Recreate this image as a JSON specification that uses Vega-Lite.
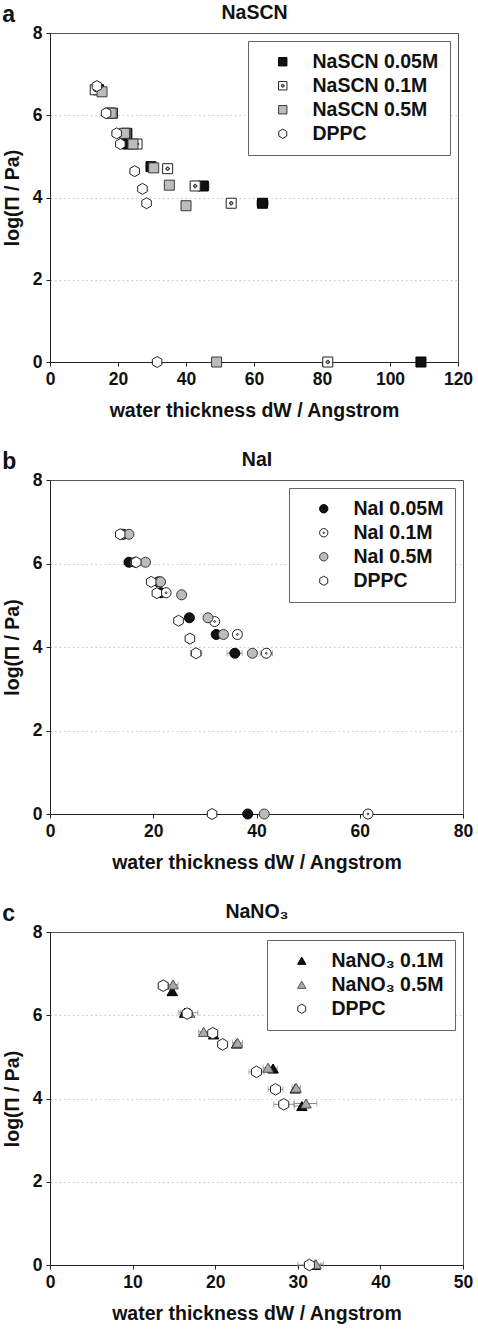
{
  "$schema": "https://vega.github.io/schema/vega-lite/v6.json",
  "padding": {"left": 1, "top": 1, "right": 0, "bottom": 5},
  "spacing": 27,
  "resolve": {"scale": {"x": "independent", "y": "independent", "shape": "independent", "fill": "independent", "stroke": "independent"}, "legend": {"shape": "independent", "fill": "independent", "stroke": "independent"}},
  "datasets": {
    "a": [
      {"s": "NaSCN 0.05M", "x": 14.3, "y": 6.62},
      {"s": "NaSCN 0.05M", "x": 17.7, "y": 6.05},
      {"s": "NaSCN 0.05M", "x": 22.6, "y": 5.56},
      {"s": "NaSCN 0.05M", "x": 22.8, "y": 5.30},
      {"s": "NaSCN 0.05M", "x": 29.7, "y": 4.75},
      {"s": "NaSCN 0.05M", "x": 45.1, "y": 4.28, "xlo": 43.5, "xhi": 46.8},
      {"s": "NaSCN 0.05M", "x": 62.5, "y": 3.86, "xlo": 60.8, "xhi": 64.3},
      {"s": "NaSCN 0.05M", "x": 109.1, "y": 0},
      {"s": "NaSCN 0.1M", "x": 13.3, "y": 6.62},
      {"s": "NaSCN 0.1M", "x": 18.4, "y": 6.05},
      {"s": "NaSCN 0.1M", "x": 22.3, "y": 5.56},
      {"s": "NaSCN 0.1M", "x": 25.6, "y": 5.30, "xlo": 24.6, "xhi": 26.6},
      {"s": "NaSCN 0.1M", "x": 34.6, "y": 4.70},
      {"s": "NaSCN 0.1M", "x": 42.7, "y": 4.28, "xlo": 41.2, "xhi": 44.2},
      {"s": "NaSCN 0.1M", "x": 53.3, "y": 3.86},
      {"s": "NaSCN 0.1M", "x": 81.7, "y": 0},
      {"s": "NaSCN 0.5M", "x": 15.3, "y": 6.57},
      {"s": "NaSCN 0.5M", "x": 18.0, "y": 6.05},
      {"s": "NaSCN 0.5M", "x": 21.9, "y": 5.56},
      {"s": "NaSCN 0.5M", "x": 24.4, "y": 5.30},
      {"s": "NaSCN 0.5M", "x": 30.5, "y": 4.72},
      {"s": "NaSCN 0.5M", "x": 35.1, "y": 4.30},
      {"s": "NaSCN 0.5M", "x": 40.0, "y": 3.80},
      {"s": "NaSCN 0.5M", "x": 49.0, "y": 0},
      {"s": "DPPC", "x": 13.8, "y": 6.71},
      {"s": "DPPC", "x": 16.5, "y": 6.05},
      {"s": "DPPC", "x": 19.6, "y": 5.56},
      {"s": "DPPC", "x": 20.7, "y": 5.30},
      {"s": "DPPC", "x": 24.9, "y": 4.64},
      {"s": "DPPC", "x": 27.2, "y": 4.21},
      {"s": "DPPC", "x": 28.4, "y": 3.86},
      {"s": "DPPC", "x": 31.5, "y": 0}
    ],
    "b": [
      {"s": "NaI 0.05M", "x": 14.2, "y": 6.70},
      {"s": "NaI 0.05M", "x": 15.3, "y": 6.03},
      {"s": "NaI 0.05M", "x": 21.0, "y": 5.56},
      {"s": "NaI 0.05M", "x": 21.5, "y": 5.30},
      {"s": "NaI 0.05M", "x": 27.0, "y": 4.70},
      {"s": "NaI 0.05M", "x": 32.2, "y": 4.30, "xlo": 31.6, "xhi": 32.8},
      {"s": "NaI 0.05M", "x": 35.8, "y": 3.85, "xlo": 34.3, "xhi": 37.2},
      {"s": "NaI 0.05M", "x": 38.3, "y": 0},
      {"s": "NaI 0.1M", "x": 13.9, "y": 6.70},
      {"s": "NaI 0.1M", "x": 16.5, "y": 6.03},
      {"s": "NaI 0.1M", "x": 21.3, "y": 5.56},
      {"s": "NaI 0.1M", "x": 22.5, "y": 5.30},
      {"s": "NaI 0.1M", "x": 31.9, "y": 4.61},
      {"s": "NaI 0.1M", "x": 36.3, "y": 4.30},
      {"s": "NaI 0.1M", "x": 41.9, "y": 3.85, "xlo": 40.7, "xhi": 43.1},
      {"s": "NaI 0.1M", "x": 61.6, "y": 0},
      {"s": "NaI 0.5M", "x": 15.3, "y": 6.70},
      {"s": "NaI 0.5M", "x": 18.5, "y": 6.03},
      {"s": "NaI 0.5M", "x": 21.4, "y": 5.56},
      {"s": "NaI 0.5M", "x": 25.5, "y": 5.25},
      {"s": "NaI 0.5M", "x": 30.6, "y": 4.70},
      {"s": "NaI 0.5M", "x": 33.6, "y": 4.30},
      {"s": "NaI 0.5M", "x": 39.2, "y": 3.85},
      {"s": "NaI 0.5M", "x": 41.5, "y": 0},
      {"s": "DPPC", "x": 13.6, "y": 6.70},
      {"s": "DPPC", "x": 16.7, "y": 6.03},
      {"s": "DPPC", "x": 19.6, "y": 5.56},
      {"s": "DPPC", "x": 20.7, "y": 5.29},
      {"s": "DPPC", "x": 24.9, "y": 4.63},
      {"s": "DPPC", "x": 27.1, "y": 4.20},
      {"s": "DPPC", "x": 28.3, "y": 3.85, "xlo": 27.2, "xhi": 29.4},
      {"s": "DPPC", "x": 31.4, "y": 0}
    ],
    "c": [
      {"s": "NaNO₃ 0.1M", "x": 14.8, "y": 6.58},
      {"s": "NaNO₃ 0.1M", "x": 16.3, "y": 6.06, "xlo": 15.6, "xhi": 17.0},
      {"s": "NaNO₃ 0.1M", "x": 19.8, "y": 5.54},
      {"s": "NaNO₃ 0.1M", "x": 22.6, "y": 5.32},
      {"s": "NaNO₃ 0.1M", "x": 27.0, "y": 4.72, "xlo": 26.6, "xhi": 27.5},
      {"s": "NaNO₃ 0.1M", "x": 29.7, "y": 4.24},
      {"s": "NaNO₃ 0.1M", "x": 30.5, "y": 3.82, "xlo": 29.6, "xhi": 31.3},
      {"s": "NaNO₃ 0.1M", "x": 32.1, "y": 0},
      {"s": "NaNO₃ 0.5M", "x": 14.9, "y": 6.74, "xlo": 14.3, "xhi": 15.5},
      {"s": "NaNO₃ 0.5M", "x": 16.9, "y": 6.06, "xlo": 15.8, "xhi": 17.9},
      {"s": "NaNO₃ 0.5M", "x": 18.6, "y": 5.60, "xlo": 18.0, "xhi": 19.2},
      {"s": "NaNO₃ 0.5M", "x": 22.7, "y": 5.34, "xlo": 22.1, "xhi": 23.3},
      {"s": "NaNO₃ 0.5M", "x": 26.4, "y": 4.74, "xlo": 25.8, "xhi": 27.0},
      {"s": "NaNO₃ 0.5M", "x": 29.8, "y": 4.26, "xlo": 29.3, "xhi": 30.3},
      {"s": "NaNO₃ 0.5M", "x": 31.0, "y": 3.88, "xlo": 29.6, "xhi": 32.3},
      {"s": "NaNO₃ 0.5M", "x": 32.2, "y": 0.02, "xlo": 31.4, "xhi": 33.1},
      {"s": "DPPC", "x": 13.7, "y": 6.71},
      {"s": "DPPC", "x": 16.6, "y": 6.04},
      {"s": "DPPC", "x": 19.7, "y": 5.57},
      {"s": "DPPC", "x": 20.9, "y": 5.30},
      {"s": "DPPC", "x": 25.0, "y": 4.64, "xlo": 24.1, "xhi": 25.9},
      {"s": "DPPC", "x": 27.3, "y": 4.22, "xlo": 26.4, "xhi": 28.2},
      {"s": "DPPC", "x": 28.3, "y": 3.86, "xlo": 27.1, "xhi": 29.5},
      {"s": "DPPC", "x": 31.4, "y": 0, "xlo": 30.0, "xhi": 32.8}
    ]
  },
  "vconcat": [
    {
      "width": 408, "height": 329,
      "data": {"name": "a"},
      "title": {"text": "a", "anchor": "start", "frame": "bounds", "fontSize": 23, "fontWeight": "bold", "dy": 25, "offset": 0},
      "resolve": {"axis": {"x": "independent"}},
      "layer": [
        {"transform": [{"filter": "isValid(datum.xlo)"}], "mark": {"type": "rule", "color": "#8a8a8a", "strokeWidth": 1},
         "encoding": {
           "x": {"field": "xlo", "type": "quantitative", "scale": {"domain": [0, 120], "nice": false}, "axis": {"orient": "top", "title": "NaSCN", "labels": false, "ticks": false, "domain": false, "grid": false, "titlePadding": 11}},
           "x2": {"field": "xhi"},
           "y": {"field": "y", "type": "quantitative", "scale": {"domain": [0, 8], "nice": false}, "axis": {"title": "log(Π / Pa)", "values": [0, 2, 4, 6, 8], "titlePadding": 10, "gridOpacity": {"condition": {"test": "datum.value === 0 || datum.value === 8", "value": 0}, "value": 1}}}}},
        {"transform": [{"filter": "isValid(datum.xlo)"}], "mark": {"type": "tick", "orient": "vertical", "color": "#8a8a8a", "size": 6, "thickness": 1},
         "encoding": {"x": {"field": "xlo", "type": "quantitative", "axis": null}, "y": {"field": "y", "type": "quantitative", "axis": {"title": "log(Π / Pa)", "values": [0, 2, 4, 6, 8], "titlePadding": 10, "gridOpacity": {"condition": {"test": "datum.value === 0 || datum.value === 8", "value": 0}, "value": 1}}}}},
        {"transform": [{"filter": "isValid(datum.xlo)"}], "mark": {"type": "tick", "orient": "vertical", "color": "#8a8a8a", "size": 6, "thickness": 1},
         "encoding": {"x": {"field": "xhi", "type": "quantitative", "axis": null}, "y": {"field": "y", "type": "quantitative", "axis": {"title": "log(Π / Pa)", "values": [0, 2, 4, 6, 8], "titlePadding": 10, "gridOpacity": {"condition": {"test": "datum.value === 0 || datum.value === 8", "value": 0}, "value": 1}}}}},
        {"mark": {"type": "point", "filled": true, "size": 100, "strokeWidth": 1, "opacity": 1},
         "encoding": {
           "x": {"field": "x", "type": "quantitative", "scale": {"domain": [0, 120], "nice": false}, "axis": {"orient": "bottom", "title": "water thickness dW / Angstrom", "titlePadding": 14, "values": [0, 20, 40, 60, 80, 100, 120], "gridOpacity": {"condition": {"test": "datum.value === 0 || datum.value === 120", "value": 0}, "value": 1}}},
           "y": {"field": "y", "type": "quantitative", "scale": {"domain": [0, 8], "nice": false}, "axis": {"title": "log(Π / Pa)", "values": [0, 2, 4, 6, 8], "titlePadding": 10, "gridOpacity": {"condition": {"test": "datum.value === 0 || datum.value === 8", "value": 0}, "value": 1}}},
           "shape": {"field": "s", "type": "nominal", "scale": {"domain": ["NaSCN 0.05M", "NaSCN 0.1M", "NaSCN 0.5M", "DPPC"], "range": ["square", "M-1,-1H1V1H-1Z M-0.35,-0.12H-0.12V-0.35H0.12V-0.12H0.35V0.12H0.12V0.35H-0.12V0.12H-0.35Z", "square", "M0,-1.1L0.95,-0.55L0.95,0.55L0,1.1L-0.95,0.55L-0.95,-0.55Z"]}, "legend": {"title": null}},
           "fill": {"field": "s", "type": "nominal", "scale": {"domain": ["NaSCN 0.05M", "NaSCN 0.1M", "NaSCN 0.5M", "DPPC"], "range": ["#111111", "#ffffff", "#bcbcbc", "#ffffff"]}, "legend": {"title": null}},
           "stroke": {"field": "s", "type": "nominal", "scale": {"domain": ["NaSCN 0.05M", "NaSCN 0.1M", "NaSCN 0.5M", "DPPC"], "range": ["#000000", "#222222", "#3a3a3a", "#222222"]}, "legend": {"title": null}}}}
      ]
    },
    {
      "width": 413, "height": 334,
      "data": {"name": "b"},
      "title": {"text": "b", "anchor": "start", "frame": "bounds", "fontSize": 23, "fontWeight": "bold", "dy": 25, "offset": 0},
      "resolve": {"axis": {"x": "independent"}},
      "layer": [
        {"transform": [{"filter": "isValid(datum.xlo)"}], "mark": {"type": "rule", "color": "#8a8a8a", "strokeWidth": 1},
         "encoding": {
           "x": {"field": "xlo", "type": "quantitative", "scale": {"domain": [0, 80], "nice": false}, "axis": {"orient": "top", "title": "NaI", "labels": false, "ticks": false, "domain": false, "grid": false, "titlePadding": 11}},
           "x2": {"field": "xhi"},
           "y": {"field": "y", "type": "quantitative", "scale": {"domain": [0, 8], "nice": false}, "axis": {"title": "log(Π / Pa)", "values": [0, 2, 4, 6, 8], "titlePadding": 10, "gridOpacity": {"condition": {"test": "datum.value === 0 || datum.value === 8", "value": 0}, "value": 1}}}}},
        {"transform": [{"filter": "isValid(datum.xlo)"}], "mark": {"type": "tick", "orient": "vertical", "color": "#8a8a8a", "size": 6, "thickness": 1},
         "encoding": {"x": {"field": "xlo", "type": "quantitative", "axis": null}, "y": {"field": "y", "type": "quantitative", "axis": {"title": "log(Π / Pa)", "values": [0, 2, 4, 6, 8], "titlePadding": 10, "gridOpacity": {"condition": {"test": "datum.value === 0 || datum.value === 8", "value": 0}, "value": 1}}}}},
        {"transform": [{"filter": "isValid(datum.xlo)"}], "mark": {"type": "tick", "orient": "vertical", "color": "#8a8a8a", "size": 6, "thickness": 1},
         "encoding": {"x": {"field": "xhi", "type": "quantitative", "axis": null}, "y": {"field": "y", "type": "quantitative", "axis": {"title": "log(Π / Pa)", "values": [0, 2, 4, 6, 8], "titlePadding": 10, "gridOpacity": {"condition": {"test": "datum.value === 0 || datum.value === 8", "value": 0}, "value": 1}}}}},
        {"mark": {"type": "point", "filled": true, "size": 100, "strokeWidth": 1, "opacity": 1},
         "encoding": {
           "x": {"field": "x", "type": "quantitative", "scale": {"domain": [0, 80], "nice": false}, "axis": {"orient": "bottom", "title": "water thickness dW / Angstrom", "titlePadding": 14, "values": [0, 20, 40, 60, 80], "gridOpacity": {"condition": {"test": "datum.value === 0 || datum.value === 80", "value": 0}, "value": 1}}},
           "y": {"field": "y", "type": "quantitative", "scale": {"domain": [0, 8], "nice": false}, "axis": {"title": "log(Π / Pa)", "values": [0, 2, 4, 6, 8], "titlePadding": 10, "gridOpacity": {"condition": {"test": "datum.value === 0 || datum.value === 8", "value": 0}, "value": 1}}},
           "shape": {"field": "s", "type": "nominal", "scale": {"domain": ["NaI 0.05M", "NaI 0.1M", "NaI 0.5M", "DPPC"], "range": ["circle", "M-1,0A1,1,0,1,0,1,0A1,1,0,1,0,-1,0Z M-0.18,0A0.18,0.18,0,1,0,0.18,0A0.18,0.18,0,1,0,-0.18,0Z", "circle", "M0,-1.1L0.95,-0.55L0.95,0.55L0,1.1L-0.95,0.55L-0.95,-0.55Z"]}, "legend": {"title": null}},
           "fill": {"field": "s", "type": "nominal", "scale": {"domain": ["NaI 0.05M", "NaI 0.1M", "NaI 0.5M", "DPPC"], "range": ["#111111", "#ffffff", "#bcbcbc", "#ffffff"]}, "legend": {"title": null}},
           "stroke": {"field": "s", "type": "nominal", "scale": {"domain": ["NaI 0.05M", "NaI 0.1M", "NaI 0.5M", "DPPC"], "range": ["#000000", "#222222", "#3a3a3a", "#222222"]}, "legend": {"title": null}}}}
      ]
    },
    {
      "width": 413, "height": 333,
      "data": {"name": "c"},
      "title": {"text": "c", "anchor": "start", "frame": "bounds", "fontSize": 23, "fontWeight": "bold", "dy": 25, "offset": 0},
      "resolve": {"axis": {"x": "independent"}},
      "layer": [
        {"transform": [{"filter": "isValid(datum.xlo)"}], "mark": {"type": "rule", "color": "#8a8a8a", "strokeWidth": 1},
         "encoding": {
           "x": {"field": "xlo", "type": "quantitative", "scale": {"domain": [0, 50], "nice": false}, "axis": {"orient": "top", "title": "NaNO₃", "labels": false, "ticks": false, "domain": false, "grid": false, "titlePadding": 11}},
           "x2": {"field": "xhi"},
           "y": {"field": "y", "type": "quantitative", "scale": {"domain": [0, 8], "nice": false}, "axis": {"title": "log(Π / Pa)", "values": [0, 2, 4, 6, 8], "titlePadding": 10, "gridOpacity": {"condition": {"test": "datum.value === 0 || datum.value === 8", "value": 0}, "value": 1}}}}},
        {"transform": [{"filter": "isValid(datum.xlo)"}], "mark": {"type": "tick", "orient": "vertical", "color": "#8a8a8a", "size": 6, "thickness": 1},
         "encoding": {"x": {"field": "xlo", "type": "quantitative", "axis": null}, "y": {"field": "y", "type": "quantitative", "axis": {"title": "log(Π / Pa)", "values": [0, 2, 4, 6, 8], "titlePadding": 10, "gridOpacity": {"condition": {"test": "datum.value === 0 || datum.value === 8", "value": 0}, "value": 1}}}}},
        {"transform": [{"filter": "isValid(datum.xlo)"}], "mark": {"type": "tick", "orient": "vertical", "color": "#8a8a8a", "size": 6, "thickness": 1},
         "encoding": {"x": {"field": "xhi", "type": "quantitative", "axis": null}, "y": {"field": "y", "type": "quantitative", "axis": {"title": "log(Π / Pa)", "values": [0, 2, 4, 6, 8], "titlePadding": 10, "gridOpacity": {"condition": {"test": "datum.value === 0 || datum.value === 8", "value": 0}, "value": 1}}}}},
        {"mark": {"type": "point", "filled": true, "size": 110, "strokeWidth": 1, "opacity": 1},
         "encoding": {
           "x": {"field": "x", "type": "quantitative", "scale": {"domain": [0, 50], "nice": false}, "axis": {"orient": "bottom", "title": "water thickness dW / Angstrom", "titlePadding": 14, "values": [0, 10, 20, 30, 40, 50], "gridOpacity": {"condition": {"test": "datum.value === 0 || datum.value === 50", "value": 0}, "value": 1}}},
           "y": {"field": "y", "type": "quantitative", "scale": {"domain": [0, 8], "nice": false}, "axis": {"title": "log(Π / Pa)", "values": [0, 2, 4, 6, 8], "titlePadding": 10, "gridOpacity": {"condition": {"test": "datum.value === 0 || datum.value === 8", "value": 0}, "value": 1}}},
           "shape": {"field": "s", "type": "nominal", "scale": {"domain": ["NaNO₃ 0.1M", "NaNO₃ 0.5M", "DPPC"], "range": ["triangle-up", "triangle-up", "M0,-1.1L0.95,-0.55L0.95,0.55L0,1.1L-0.95,0.55L-0.95,-0.55Z"]}, "legend": {"title": null}},
           "fill": {"field": "s", "type": "nominal", "scale": {"domain": ["NaNO₃ 0.1M", "NaNO₃ 0.5M", "DPPC"], "range": ["#111111", "#aaaaaa", "#ffffff"]}, "legend": {"title": null}},
           "stroke": {"field": "s", "type": "nominal", "scale": {"domain": ["NaNO₃ 0.1M", "NaNO₃ 0.5M", "DPPC"], "range": ["#000000", "#555555", "#222222"]}, "legend": {"title": null}}}}
      ]
    }
  ],
  "config": {
    "font": "Liberation Sans",
    "view": {"stroke": "#555555", "strokeWidth": 1},
    "axis": {"labelFontSize": 17.5, "labelFontWeight": "bold", "labelColor": "#111111", "labelFlush": false, "labelOverlap": false, "titleFontSize": 19.5, "titleFontWeight": "bold", "titleColor": "#111111", "domainColor": "#222222", "tickColor": "#222222", "tickSize": 4, "gridColor": "#c8c8c8", "gridDash": [1.5, 3], "labelPadding": 4, "titlePadding": 8},
    "legend": {"orient": "top-right", "offset": 8, "fillColor": "#ffffff", "strokeColor": "#666666", "padding": 11, "labelFontSize": 19.5, "labelFontWeight": "bold", "labelColor": "#111111", "symbolSize": 70, "symbolStrokeWidth": 1, "symbolOffset": 14, "labelOffset": 20, "rowPadding": 3},
    "title": {"color": "#111111"}
  }
}
